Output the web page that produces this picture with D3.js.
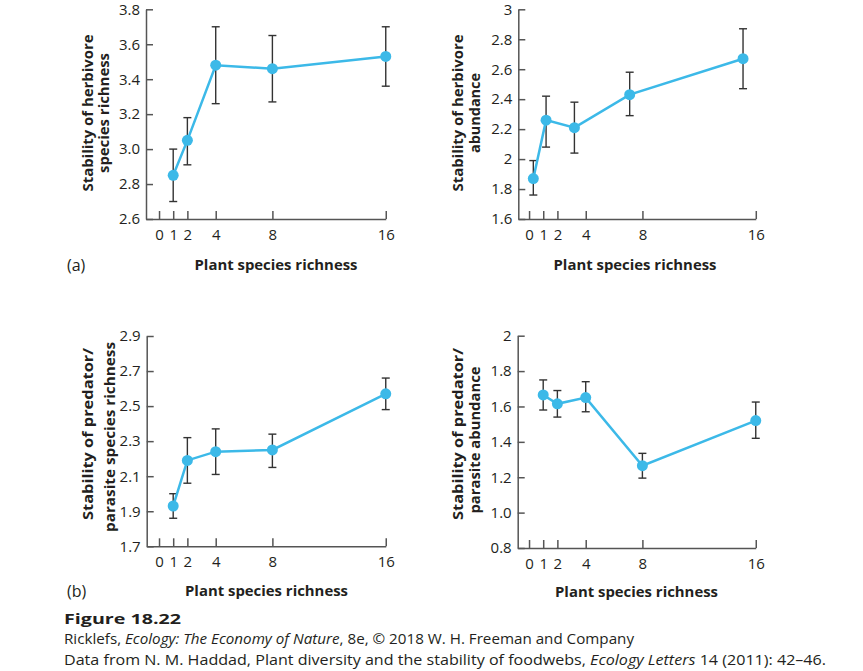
<!DOCTYPE html>
<html lang="en">
<head>
<meta charset="utf-8">
<title>Figure 18.22</title>
<script src="https://d3js.org/d3.v7.min.js"></script>
<style>
  body { margin: 0; background: #fff; }
  .tick text { font-family: "Open Sans", sans-serif; font-weight: 400; font-size: 15px; fill: #231f20; }
  .ttl { font-family: "Open Sans", sans-serif; font-weight: 700; font-size: 15px; fill: #231f20; }
</style>
</head>
<body>
<script>
// x positions (plant species richness)
var xTicks = [0, 1, 2, 4, 8, 16];
var richness = [1, 2, 4, 8, 16];
// top right panel points sit slightly left of their ticks in the original
var richnessShifted = [0.3, 1.2, 3.2, 7.1, 15.1];

// (a) left: herbivore species richness
var herbRich    = [2.85, 3.05, 3.48, 3.46, 3.53];
var herbRichHi  = [3.00, 3.18, 3.70, 3.65, 3.70];
var herbRichLo  = [2.70, 2.91, 3.26, 3.27, 3.36];
var herbRichTicks = ["2.6", "2.8", "3.0", "3.2", "3.4", "3.6", "3.8"];

// (a) right: herbivore abundance
var herbAbun    = [1.87, 2.26, 2.21, 2.43, 2.67];
var herbAbunHi  = [1.99, 2.42, 2.38, 2.58, 2.87];
var herbAbunLo  = [1.76, 2.08, 2.04, 2.29, 2.47];
var herbAbunTicks = ["1.6", "1.8", "2", "2.2", "2.4", "2.6", "2.8", "3"];

// (b) left: predator/parasite species richness
var predRich    = [1.93, 2.19, 2.24, 2.25, 2.57];
var predRichHi  = [2.00, 2.32, 2.37, 2.34, 2.66];
var predRichLo  = [1.86, 2.06, 2.11, 2.15, 2.48];
var predRichTicks = ["1.7", "1.9", "2.1", "2.3", "2.5", "2.7", "2.9"];

// (b) right: predator/parasite abundance
var predAbun    = [1.665, 1.615, 1.65, 1.265, 1.52];
var predAbunHi  = [1.75, 1.69, 1.74, 1.335, 1.625];
var predAbunLo  = [1.58, 1.54, 1.57, 1.195, 1.42];
var predAbunTicks = ["0.8", "1.0", "1.2", "1.4", "1.6", "1.8", "2"];

var blue = "#3cb9e8";
var axisCol = "#555";

var svg = d3.select("body").append("svg")
  .attr("width", 863)
  .attr("height", 671);

function panel(cfg) {
  var x = d3.scaleLinear().domain([cfg.xMin, 16]).range([cfg.left, cfg.left + (16 - cfg.xMin) * 14.17]);
  var y = d3.scaleLinear().domain(cfg.yDomain).range([cfg.bottom, cfg.top]);

  var xAxis = svg.append("g")
    .attr("transform", "translate(0," + cfg.bottom + ")")
    .call(d3.axisBottom(x).tickValues(xTicks).tickFormat(d3.format("d"))
      .tickSizeInner(-8).tickSizeOuter(0).tickPadding(10));

  var yAxis = svg.append("g")
    .attr("transform", "translate(" + cfg.left + ",0)")
    .call(d3.axisLeft(y).tickValues(cfg.ticks.map(Number))
      .tickFormat(function(d, i) { return cfg.ticks[i]; })
      .tickSizeInner(-7).tickSizeOuter(0).tickPadding(6));

  [xAxis, yAxis].forEach(function(a) {
    a.select(".domain").attr("stroke", axisCol).attr("stroke-width", 1.5);
    a.selectAll(".tick line").attr("stroke", axisCol).attr("stroke-width", 1.5);
  });

  var pts = cfg.xs.map(function(d, i) {
    return { x: d, v: cfg.vals[i], hi: cfg.hi[i], lo: cfg.lo[i] };
  });

  // error bars
  var eb = svg.append("g").attr("stroke", "#333").attr("stroke-width", 1.4);
  pts.forEach(function(p) {
    eb.append("line").attr("x1", x(p.x)).attr("x2", x(p.x)).attr("y1", y(p.hi)).attr("y2", y(p.lo));
    eb.append("line").attr("x1", x(p.x) - 4).attr("x2", x(p.x) + 4).attr("y1", y(p.hi)).attr("y2", y(p.hi));
    eb.append("line").attr("x1", x(p.x) - 4).attr("x2", x(p.x) + 4).attr("y1", y(p.lo)).attr("y2", y(p.lo));
  });

  svg.append("path")
    .datum(pts)
    .attr("fill", "none")
    .attr("stroke", blue)
    .attr("stroke-width", 2.5)
    .attr("d", d3.line().x(function(d) { return x(d.x); }).y(function(d) { return y(d.v); }));

  svg.append("g").selectAll("circle")
    .data(pts)
    .enter()
    .append("circle")
    .attr("cx", function(d) { return x(d.x); })
    .attr("cy", function(d) { return y(d.v); })
    .attr("r", 5.5)
    .attr("fill", blue);

  // axis titles
  svg.append("text").attr("class", "ttl")
    .attr("x", cfg.xTitle[0]).attr("y", cfg.xTitle[1])
    .attr("text-anchor", "middle").attr("dy", "0.35em")
    .attr("textLength", 163).attr("lengthAdjust", "spacingAndGlyphs")
    .text("Plant species richness");

  cfg.yTitle.forEach(function(t) {
    svg.append("text").attr("class", "ttl")
      .attr("transform", "translate(" + t.x + "," + t.y + ") rotate(-90)")
      .attr("text-anchor", "middle").attr("dy", "0.35em")
      .attr("textLength", t.len).attr("lengthAdjust", "spacingAndGlyphs")
      .text(t.text);
  });

  if (cfg.letter) {
    svg.append("text")
      .attr("x", 67).attr("y", cfg.xTitle[1]).attr("dy", "0.35em")
      .style("font-family", "'Open Sans', sans-serif")
      .style("font-size", "16px").style("fill", "#231f20")
      .text(cfg.letter);
  }
}

panel({
  xMin: -0.92, left: 146, top: 9.3, bottom: 219, yDomain: [2.6, 3.8], ticks: herbRichTicks,
  xs: richness, vals: herbRich, hi: herbRichHi, lo: herbRichLo,
  xTitle: [276, 265], letter: "(a)",
  yTitle: [{ text: "Stability of herbivore", x: 88, y: 113, len: 157 },
           { text: "species richness", x: 104, y: 113, len: 120 }]
});

panel({
  xMin: -0.76, left: 518.3, top: 9.3, bottom: 219, yDomain: [1.6, 3], ticks: herbAbunTicks,
  xs: richnessShifted, vals: herbAbun, hi: herbAbunHi, lo: herbAbunLo,
  xTitle: [635, 265],
  yTitle: [{ text: "Stability of herbivore", x: 458, y: 113, len: 157 },
           { text: "abundance", x: 475, y: 113, len: 80 }]
});

panel({
  xMin: -0.87, left: 146.7, top: 336, bottom: 546.3, yDomain: [1.7, 2.9], ticks: predRichTicks,
  xs: richness, vals: predRich, hi: predRichHi, lo: predRichLo,
  xTitle: [266.5, 591], letter: "(b)",
  yTitle: [{ text: "Stability of predator/", x: 88, y: 434, len: 172 },
           { text: "parasite species richness", x: 110, y: 437, len: 190 }]
});

panel({
  xMin: -0.80, left: 517.7, top: 335.7, bottom: 548, yDomain: [0.8, 2], ticks: predAbunTicks,
  xs: richness, vals: predAbun, hi: predAbunHi, lo: predAbunLo,
  xTitle: [636.5, 592],
  yTitle: [{ text: "Stability of predator/", x: 458, y: 434, len: 172 },
           { text: "parasite abundance", x: 475, y: 440, len: 147 }]
});

// caption
var cap = svg.append("g").style("font-family", "'Open Sans', sans-serif").style("fill", "#231f20");
cap.append("text").attr("x", 64).attr("y", 624).style("font-size", "15px").style("font-weight", 700)
  .attr("textLength", 117).attr("lengthAdjust", "spacingAndGlyphs").text("Figure 18.22");
var l2 = cap.append("text").attr("x", 64).attr("y", 644).style("font-size", "14px")
  .attr("textLength", 570).attr("lengthAdjust", "spacingAndGlyphs");
l2.append("tspan").text("Ricklefs, ");
l2.append("tspan").style("font-style", "italic").text("Ecology: The Economy of Nature");
l2.append("tspan").text(", 8e, \u00a9 2018 W. H. Freeman and Company");
var l3 = cap.append("text").attr("x", 64).attr("y", 665).style("font-size", "14px")
  .attr("textLength", 762).attr("lengthAdjust", "spacingAndGlyphs");
l3.append("tspan").text("Data from N. M. Haddad, Plant diversity and the stability of foodwebs, ");
l3.append("tspan").style("font-style", "italic").text("Ecology Letters");
l3.append("tspan").text(" 14 (2011): 42\u201346.");
</script>
</body>
</html>
